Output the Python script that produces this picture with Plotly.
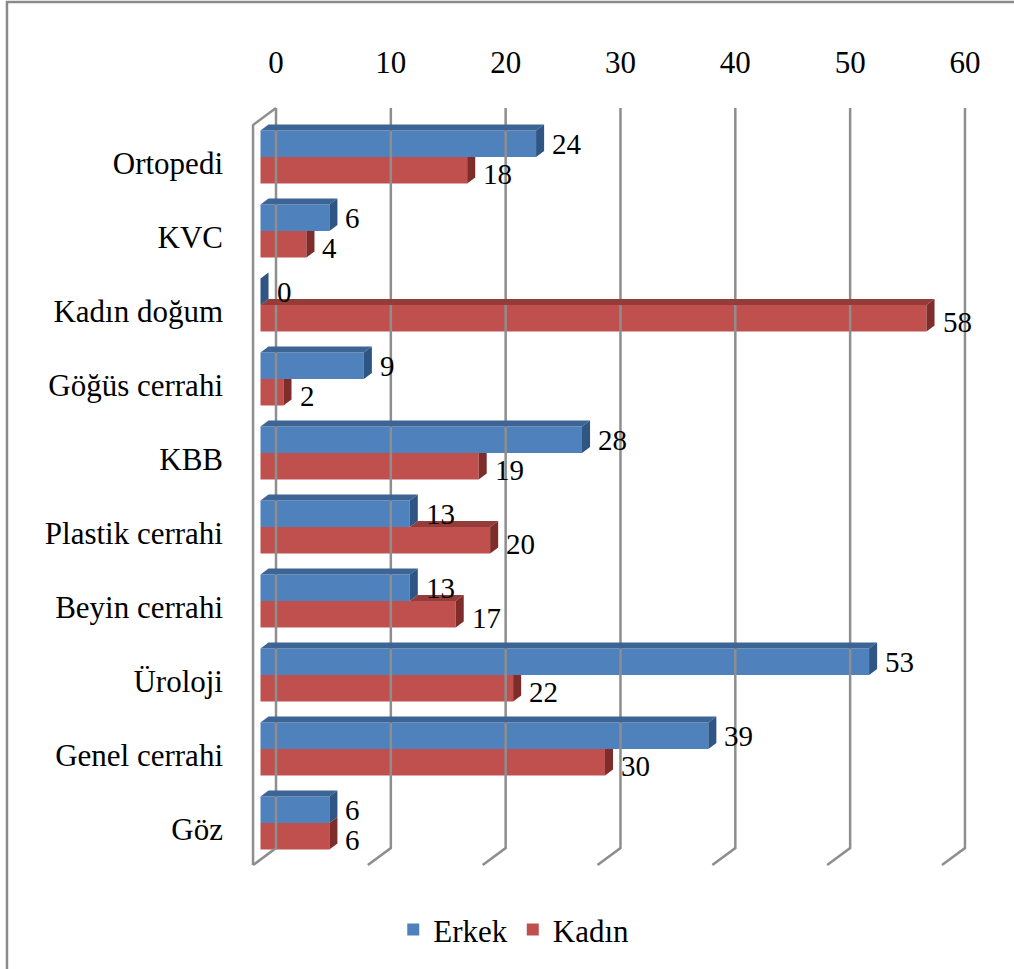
import plotly.graph_objects as go

# ---- data ----
categories = ["Ortopedi", "KVC", "Kadın doğum", "Göğüs cerrahi", "KBB",
              "Plastik cerrahi", "Beyin cerrahi", "Üroloji", "Genel cerrahi", "Göz"]
erkek = [24, 6, 0, 9, 28, 13, 13, 53, 39, 6]
kadin = [18, 4, 58, 2, 19, 20, 17, 22, 30, 6]
x_ticks = [0, 10, 20, 30, 40, 50, 60]

# ---- 3D geometry (in axis units) ----
FRONT = -1.35      # bars sit in front of the back wall
DX, DY = 0.70, 0.081   # bar depth
WX, WY = 2.0, 0.23     # floor / wall depth
BAR_W = 0.358
Y_TOP, Y_BOT = -0.662, 9.338

FONT = "Liberation Serif"
BLUE, BLUE_TOP, BLUE_SIDE = "#4F81BD", "#3C6494", "#2E5583"
RED, RED_TOP, RED_SIDE = "#C0504D", "#943C3A", "#7E2D2B"
GRID = "#8E8E8E"

pos = list(range(len(categories)))
blue_c = [p - BAR_W / 2 for p in pos]
red_c = [p + BAR_W / 2 for p in pos]


def poly_trace(polys, color):
    xs, ys = [], []
    for pts in polys:
        for x, y in pts:
            xs.append(x)
            ys.append(y)
        xs.append(pts[0][0]); ys.append(pts[0][1])
        xs.append(None); ys.append(None)
    return go.Scatter(x=xs, y=ys, mode="lines", fill="toself", fillcolor=color,
                      line=dict(width=0, color=color), hoverinfo="skip", showlegend=False)


fig = go.Figure()

# gridlines (back wall + floor) and left wall
gx, gy = [], []
for v in x_ticks:
    gx += [v, v, v - WX, None]
    gy += [Y_TOP, Y_BOT, Y_BOT + WY, None]
gx += [0, -WX, -WX, None]
gy += [Y_TOP, Y_TOP + WY, Y_BOT + WY, None]
fig.add_trace(go.Scatter(x=gx, y=gy, mode="lines", line=dict(color=GRID, width=2.5),
                         hoverinfo="skip", showlegend=False))

# front faces
fig.add_trace(go.Bar(name="Erkek", y=blue_c, x=erkek, base=FRONT, orientation="h",
                     width=BAR_W, marker=dict(color=BLUE, line=dict(width=0))))
fig.add_trace(go.Bar(name="Kadın", y=red_c, x=kadin, base=FRONT, orientation="h",
                     width=BAR_W, marker=dict(color=RED, line=dict(width=0))))

# red 3D faces (clipped where the blue bar is in front)
red_tops, red_sides = [], []
for i, (b, r) in enumerate(zip(erkek, kadin)):
    yt, yb = pos[i], pos[i] + BAR_W
    be, re = b + FRONT, r + FRONT
    if r > b:
        red_tops.append([(be, yt), (be + DX, yt - DY), (re + DX, yt - DY), (re, yt)])
    if r >= b:
        red_sides.append([(re, yt), (re + DX, yt - DY), (re + DX, yb - DY), (re, yb)])
    else:
        red_sides.append([(re, yt), (re + DX, yt), (re + DX, yb - DY), (re, yb)])
fig.add_trace(poly_trace(red_tops, RED_TOP))
fig.add_trace(poly_trace(red_sides, RED_SIDE))

# blue 3D faces
blue_tops, blue_sides = [], []
for i, b in enumerate(erkek):
    yt, yb = pos[i] - BAR_W, pos[i]
    be = b + FRONT
    blue_tops.append([(FRONT, yt), (FRONT + DX, yt - DY), (be + DX, yt - DY), (be, yt)])
    blue_sides.append([(be, yt), (be + DX, yt - DY), (be + DX, yb - DY), (be, yb)])
fig.add_trace(poly_trace(blue_tops, BLUE_TOP))
fig.add_trace(poly_trace(blue_sides, BLUE_SIDE))

# value labels
for vals, centers, dy in ((erkek, blue_c, 0.0), (kadin, red_c, 0.05)):
    for v, c in zip(vals, centers):
        fig.add_annotation(x=v + FRONT + DX, y=c + dy, text=str(v), showarrow=False,
                           xanchor="left", yanchor="middle", xshift=6,
                           font=dict(family=FONT, size=29, color="black"))

fig.update_layout(
    width=1014, height=969,
    margin=dict(l=240, r=24, t=100, b=89, autoexpand=False),
    paper_bgcolor="white", plot_bgcolor="white",
    barmode="overlay",
    font=dict(family=FONT, size=31, color="black"),
    xaxis=dict(side="top", range=[-3.135, 62.18], tickvals=x_ticks,
               ticktext=[str(t) for t in x_ticks], showgrid=False, zeroline=False,
               showline=False, ticks="", ticklabelstandoff=20, automargin=False,
               tickfont=dict(family=FONT, size=31, color="black")),
    yaxis=dict(range=[9.770, -0.770], tickvals=[p + 0.08 for p in pos],
               ticktext=categories, showgrid=False, zeroline=False, showline=False,
               ticks="", ticklabelstandoff=16, automargin=False,
               tickfont=dict(family=FONT, size=31, color="black")),
    legend=dict(orientation="h", x=0.365, xanchor="center", y=-0.064, yanchor="middle",
                font=dict(family=FONT, size=31, color="black"), itemwidth=30,
                bgcolor="rgba(0,0,0,0)"),
    shapes=[dict(type="rect", xref="paper", yref="paper", x0=-0.3107, x1=1.06,
                 y0=-0.14, y1=1.1256, line=dict(color="#8A8A8A", width=2.5),
                 fillcolor="rgba(0,0,0,0)", layer="below")],
)

fig.write_html("out.html", config={"displayModeBar": False},
               post_script="document.body.style.margin='0px';")
